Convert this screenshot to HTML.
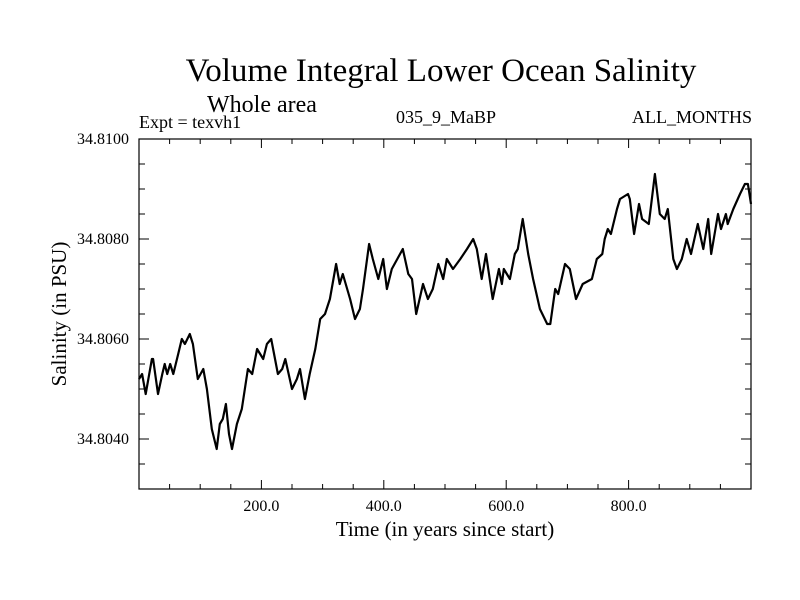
<!DOCTYPE html>
<html><head><meta charset="utf-8"><style>
html,body{margin:0;padding:0;background:#fff;}
svg{display:block;font-family:"Liberation Serif",serif;}
</style></head><body>
<svg id="chart" width="800" height="600" xmlns="http://www.w3.org/2000/svg">
<text x="441" y="81" font-size="33" text-anchor="middle">Volume Integral Lower Ocean Salinity</text>
<text x="207" y="112" font-size="24">Whole area</text>
<text x="139" y="128" font-size="18">Expt = texvh1</text>
<text x="446" y="123" font-size="18" text-anchor="middle">035_9_MaBP</text>
<text x="752" y="123" font-size="18" text-anchor="end">ALL_MONTHS</text>
<rect x="139" y="139" width="612" height="350" fill="none" stroke="#000" stroke-width="1.2"/>
<g id="yticks"></g><g id="xticks"></g>
<path id="series" fill="none" stroke="#000" stroke-width="2.2" stroke-linejoin="round"/>
<text transform="translate(66,314) rotate(-90)" font-size="21" text-anchor="middle">Salinity (in PSU)</text>
<text x="445" y="536" font-size="21" text-anchor="middle">Time (in years since start)</text>
</svg>
<script>
const years=[0,5,11,21,23,31,38,42,46,51,56,64,70,75,83,88,96,105,111,119,127,132,137,142,147,152,160,168,178,185,193,203,209,216,227,234,239,250,258,263,271,279,288,296,304,312,322,328,333,345,353,361,366,376,382,391,399,405,413,422,431,440,446,453,464,472,480,489,497,503,513,525,536,546,552,560,567,578,588,593,596,606,614,619,627,636,644,655,667,672,680,685,696,704,714,725,740,748,757,761,766,771,781,786,799,802,809,817,822,833,843,851,859,864,873,879,887,895,902,913,922,930,935,946,951,959,962,971,982,990,995,1000];
const salinity=[34.8052,34.8053,34.8049,34.8056,34.8056,34.8049,34.8053,34.8055,34.8053,34.8055,34.8053,34.8057,34.8060,34.8059,34.8061,34.8059,34.8052,34.8054,34.8050,34.8042,34.8038,34.8043,34.8044,34.8047,34.8041,34.8038,34.8043,34.8046,34.8054,34.8053,34.8058,34.8056,34.8059,34.8060,34.8053,34.8054,34.8056,34.8050,34.8052,34.8054,34.8048,34.8053,34.8058,34.8064,34.8065,34.8068,34.8075,34.8071,34.8073,34.8068,34.8064,34.8066,34.8070,34.8079,34.8076,34.8072,34.8076,34.8070,34.8074,34.8076,34.8078,34.8073,34.8072,34.8065,34.8071,34.8068,34.8070,34.8075,34.8072,34.8076,34.8074,34.8076,34.8078,34.8080,34.8078,34.8072,34.8077,34.8068,34.8074,34.8071,34.8074,34.8072,34.8077,34.8078,34.8084,34.8077,34.8072,34.8066,34.8063,34.8063,34.8070,34.8069,34.8075,34.8074,34.8068,34.8071,34.8072,34.8076,34.8077,34.8080,34.8082,34.8081,34.8086,34.8088,34.8089,34.8088,34.8081,34.8087,34.8084,34.8083,34.8093,34.8085,34.8084,34.8086,34.8076,34.8074,34.8076,34.8080,34.8077,34.8083,34.8078,34.8084,34.8077,34.8085,34.8082,34.8085,34.8083,34.8086,34.8089,34.8091,34.8091,34.8087];
const yTickLabels=["34.8040","34.8060","34.8080","34.8100"];
const yTickValues=[34.804,34.806,34.808,34.810];
const xTickLabels=["200.0","400.0","600.0","800.0"];
const xTickValues=[200,400,600,800];
const X0=139,X1=751,Y0=489,Y1=139,xMin=0,xMax=1000,yMin=34.803,yMax=34.810;
const sx=v=>X0+(v-xMin)/(xMax-xMin)*(X1-X0);
const sy=v=>Y0-(v-yMin)/(yMax-yMin)*(Y0-Y1);
const NS="http://www.w3.org/2000/svg";
const yg=document.getElementById('yticks'), xg=document.getElementById('xticks');
function ln(g,x1,y1,x2,y2){const l=document.createElementNS(NS,'line');l.setAttribute('x1',x1);l.setAttribute('y1',y1);l.setAttribute('x2',x2);l.setAttribute('y2',y2);l.setAttribute('stroke','#000');l.setAttribute('stroke-width','1');g.appendChild(l);return l;}
for(let k=0;k<=14;k++){
  const v=yMin+k*0.0005;
  const y=sy(v);const major=(k%4===2);
  const l1=ln(yg,X0,y,X0+(major?10:6),y);
  
  
  const l2=ln(yg,X1,y,X1-(major?10:6),y);
  
  
}
yTickValues.forEach((v,i)=>{const t=document.createElementNS(NS,'text');t.setAttribute('x',129);t.setAttribute('y',sy(v)+5);t.setAttribute('font-size','16');t.setAttribute('text-anchor','end');t.textContent=yTickLabels[i];
  
  
  yg.appendChild(t);});
for(let v=50;v<xMax;v+=50){const x=sx(v);const major=v%200===0;
  const l1=ln(xg,x,Y0,x,Y0-(major?9:5));
  
  
  const l2=ln(xg,x,Y1,x,Y1+(major?9:5));
  
  
}
xTickValues.forEach((v,i)=>{const t=document.createElementNS(NS,'text');t.setAttribute('x',sx(v));t.setAttribute('y',511);t.setAttribute('font-size','16');t.setAttribute('text-anchor','middle');t.textContent=xTickLabels[i];
  
  
  xg.appendChild(t);});
document.getElementById('series').setAttribute('d',years.map((yr,i)=>(i?'L':'M')+sx(yr).toFixed(1)+','+sy(salinity[i]).toFixed(1)).join(''));
</script>
</body></html>
